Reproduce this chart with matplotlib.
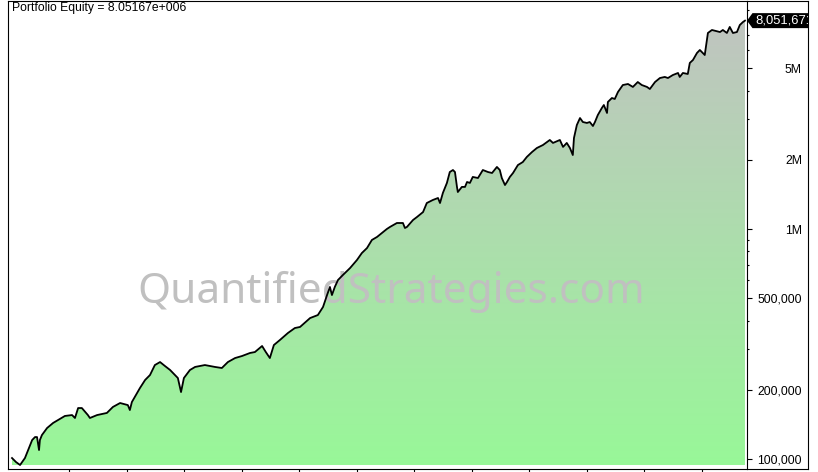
import numpy as np
import matplotlib
matplotlib.use("Agg")
import matplotlib.pyplot as plt
from matplotlib.path import Path
from matplotlib.patches import PathPatch, Polygon
from matplotlib.ticker import FixedLocator, FuncFormatter, NullFormatter
import matplotlib.transforms as mtransforms

plt.rcParams['font.family'] = ['Liberation Sans', 'DejaVu Sans']

# Equity curve (decimal years, thousands of dollars)
years = [1994.00, 1994.14, 1994.28, 1994.45, 1994.59, 1994.70, 1994.80, 1994.87, 1994.94, 1994.97,
         1995.04, 1995.22, 1995.43, 1995.60, 1995.84, 1996.09, 1996.19, 1996.30, 1996.43, 1996.64,
         1996.71, 1996.96, 1997.30, 1997.51, 1997.76, 1998.03, 1998.10, 1998.17, 1998.31, 1998.45,
         1998.63, 1998.80, 1998.97, 1999.15, 1999.32, 1999.50, 1999.67, 1999.77, 1999.88, 1999.98,
         2000.19, 2000.37, 2000.71, 2001.06, 2001.30, 2001.51, 2001.76, 2002.00, 2002.28, 2002.45,
         2002.70, 2002.83, 2002.97, 2003.11, 2003.32, 2003.60, 2003.84, 2004.02, 2004.37, 2004.64,
         2004.82, 2004.96, 2005.06, 2005.13, 2005.23, 2005.34, 2005.51, 2005.76, 2006.00, 2006.17,
         2006.35, 2006.52, 2006.70, 2006.87, 2007.04, 2007.15, 2007.39, 2007.60, 2007.67, 2007.74,
         2007.95, 2008.09, 2008.30, 2008.43, 2008.64, 2008.82, 2008.89, 2008.99, 2009.13, 2009.23,
         2009.34, 2009.41, 2009.48, 2009.51, 2009.65, 2009.76, 2009.83, 2009.93, 2010.03, 2010.21,
         2010.38, 2010.56, 2010.70, 2010.87, 2010.97, 2011.04, 2011.15, 2011.22, 2011.32, 2011.43,
         2011.60, 2011.77, 2011.91, 2012.09, 2012.26, 2012.47, 2012.71, 2012.82, 2013.06, 2013.17,
         2013.30, 2013.41, 2013.51, 2013.55, 2013.65, 2013.76, 2013.86, 2014.00, 2014.10, 2014.21,
         2014.28, 2014.38, 2014.52, 2014.59, 2014.70, 2014.73, 2014.87, 2014.97, 2015.08, 2015.25,
         2015.43, 2015.60, 2015.77, 2015.91, 2016.09, 2016.19, 2016.37, 2016.54, 2016.71, 2016.82,
         2016.99, 2017.17, 2017.23, 2017.34, 2017.51, 2017.58, 2017.69, 2017.83, 2017.93, 2018.10,
         2018.21, 2018.35, 2018.63, 2018.73, 2018.87, 2018.97, 2019.08, 2019.22, 2019.32, 2019.43,
         2019.50]
equity_k = [101.0, 97.0, 94.2, 101.0, 111.6, 120.9, 124.6, 124.6, 109.4, 120.9,
            127.1, 136.4, 143.5, 147.8, 153.9, 155.3, 150.8, 166.6, 166.6, 155.3,
            150.8, 155.3, 158.6, 168.4, 175.2, 171.6, 163.3, 176.9, 189.7, 203.5,
            220.6, 231.8, 256.2, 264.0, 253.8, 243.8, 231.8, 225.0, 195.5, 225.0,
            243.8, 251.4, 256.2, 251.4, 248.7, 264.0, 274.8, 280.4, 289.1, 291.8,
            310.0, 291.8, 274.8, 313.0, 329.2, 353.2, 371.1, 375.1, 410.1, 422.6,
            458.2, 516.3, 559.8, 516.3, 559.8, 600.1, 630.7, 676.5, 733.2, 786.0,
            826.5, 896.0, 923.8, 961.4, 1000.0, 1021.0, 1062.0, 1062.0, 1010.0, 1021.0,
            1094.0, 1128.0, 1185.0, 1297.0, 1337.0, 1364.0, 1297.0, 1435.0, 1586.0, 1769.0,
            1805.0, 1769.0, 1524.0, 1448.0, 1524.0, 1524.0, 1601.0, 1586.0, 1684.0, 1666.0,
            1805.0, 1769.0, 1752.0, 1861.0, 1805.0, 1666.0, 1553.0, 1601.0, 1684.0, 1752.0,
            1897.0, 1955.0, 2057.0, 2161.0, 2250.0, 2318.0, 2438.0, 2367.0, 2438.0, 2274.0,
            2367.0, 2250.0, 2097.0, 2487.0, 2831.0, 3037.0, 2918.0, 2891.0, 2918.0, 2804.0,
            2918.0, 3130.0, 3358.0, 3460.0, 3195.0, 3566.0, 3711.0, 3675.0, 3940.0, 4226.0,
            4270.0, 4146.0, 4355.0, 4226.0, 4146.0, 4061.0, 4355.0, 4533.0, 4582.0, 4533.0,
            4671.0, 4768.0, 4582.0, 4768.0, 4720.0, 5271.0, 5430.0, 5826.0, 6001.0, 5707.0,
            7116.0, 7332.0, 7183.0, 7332.0, 7116.0, 7559.0, 7116.0, 7183.0, 7706.0, 7941.0,
            8051.671]
final_value = 8051671

y_major = [100000, 200000, 500000, 1000000, 2000000, 5000000]
y_minor = [300000, 400000, 600000, 700000, 800000, 900000,
           3000000, 4000000, 6000000, 7000000, 8000000, 9000000]
x_ticks = list(range(1996, 2019, 2))

x = np.array(years)
equity = np.array(equity_k) * 1000

W, H = 818, 472
fig = plt.figure(figsize=(W / 100, H / 100), dpi=100)
L, R, T, B, PR = 7.7, 747, 1, 469, 808
ax = fig.add_axes([L / W, (H - B) / H, (R - L) / W, (B - T) / H])
panel = fig.add_axes([R / W, (H - B) / H, (PR - R) / W, (B - T) / H], sharey=ax)

ax.set_yscale('log')
ax.set_xlim(1993.85, 2019.57)
ax.set_ylim(90500, 9800000)
ax.set_autoscale_on(False)
panel.set_autoscale_on(False)

# gradient fill clipped under the curve
base = equity.min()
verts = np.column_stack([np.concatenate([x, x[::-1]]),
                         np.concatenate([equity, np.full(len(x), base)])])
clip = PathPatch(Path(verts), transform=ax.transData, fc='none', ec='none')
ax.add_patch(clip)
bottom_c = np.array([152, 248, 152]) / 255
top_c = np.array([194, 194, 194]) / 255
t = np.linspace(0, 1, 256)[:, None, None]
grad = bottom_c * (1 - t) + top_c * t
im = ax.imshow(grad, extent=(0, 1, 0, 1), transform=ax.transAxes, origin='lower',
               aspect='auto', interpolation='bilinear', zorder=1)
im.set_clip_path(clip)
ax.set_xlim(1993.85, 2019.57)
ax.set_ylim(90500, 9800000)

ax.plot(x, equity, color='black', lw=1.3, zorder=3)

# watermark
wm = ax.text(391.5 / W, (H - 303) / H, 'QuantifiedStrategies.com', transform=fig.transFigure,
             ha='center', va='baseline', color='#c0c0c0', fontsize=40,
             family='Noto Sans', zorder=2)
fig.canvas.draw()
wmw = wm.get_window_extent(fig.canvas.get_renderer()).width
wm.set_fontsize(40 * 507 / wmw)

# axes styling
for s in ax.spines.values():
    s.set_linewidth(0.8)
ax.yaxis.tick_right()
ax.yaxis.set_major_locator(FixedLocator(y_major))
ax.yaxis.set_minor_locator(FixedLocator(y_minor))
ax.yaxis.set_major_formatter(FuncFormatter(
    lambda v, p: f"{v / 1e6:g}M" if v >= 1e6 else f"{v:,.0f}"))
ax.yaxis.set_minor_formatter(NullFormatter())
ax.tick_params(axis='y', which='major', direction='out', length=3.6, width=0.8,
               pad=36, labelsize=8.8, right=True, left=False)
ax.tick_params(axis='y', which='minor', direction='out', length=1.6, width=0.8,
               right=True, left=False)
ax.set_xticks(x_ticks)
ax.tick_params(axis='x', direction='out', length=3, width=0.8, labelbottom=False)
for lab in ax.get_yticklabels():
    lab.set_horizontalalignment('right')

panel.patch.set_visible(False)
panel.set_zorder(2)
panel.spines['left'].set_visible(False)
for s in panel.spines.values():
    s.set_linewidth(0.8)
panel.tick_params(left=False, labelleft=False, bottom=False, labelbottom=False,
                  right=False, labelright=False, which='both')

ax.text(11.7 / W, (H - 11) / H, 'Portfolio Equity = 8.05167e+006', transform=fig.transFigure,
        fontsize=8.7, ha='left', va='baseline', color='black', zorder=5)

# last value marker box
px, py = mtransforms.blended_transform_factory(panel.transAxes, panel.transData).transform((0, final_value))
box = Polygon([(px, py), (px + 5.5, py + 7.5), (px + 80, py + 7.5), (px + 80, py - 7.5),
               (px + 5.5, py - 7.5)], closed=True, fc='black', ec='none',
              transform=mtransforms.IdentityTransform())
panel.add_patch(box)
panel.text(px + 8, py, f"{final_value:,}", transform=mtransforms.IdentityTransform(),
           color='white', fontsize=9.4, ha='left', va='center', clip_on=True)

fig.savefig('out.png', dpi=100)
